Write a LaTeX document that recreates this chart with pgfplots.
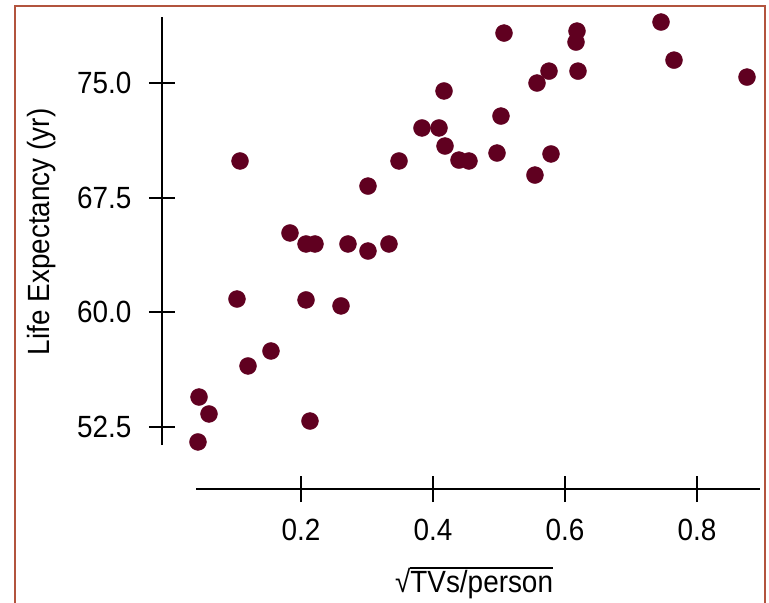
\documentclass[border=0pt]{standalone}
\usepackage{fontspec}
\setmainfont{Liberation Sans}
\usepackage{pgfplots}
\pgfplotsset{compat=1.18}
\definecolor{dotred}{RGB}{96,0,32}
\definecolor{framered}{RGB}{178,84,62}
\newcommand{\ovl}[1]{\leavevmode\vbox{\hrule height 1.4pt\kern 1.4pt\hbox{#1}}}
\newcommand{\tall}[1]{\scalebox{1}[1.1]{#1}}

\begin{document}
\begin{tikzpicture}
\useasboundingbox (0bp,0bp) rectangle (769bp,-603bp);
\draw[framered, line width=1.6bp] (15bp,-6bp) rectangle (765bp,-640bp);
\begin{axis}[
  at={(196bp,-445bp)},
  anchor=south west,
  scale only axis,
  width=564bp, height=428bp,
  xmin=0.0409, xmax=0.8955,
  ymin=51.32, ymax=79.32,
  clip=false,
  axis x line=bottom,
  axis y line=left,
  axis x line shift=44bp,
  axis y line shift=34bp,
  axis line style={-, line width=2.1bp},
  tick style={line width=2.1bp, black},
  tick align=center,
  major tick length=26bp,
  xtick={0.2,0.4,0.6,0.8},
  ytick={52.5,60,67.5,75},
  minor tick num=0,
  tick label style={font=\fontsize{28}{30}\selectfont},
  /pgf/number format/assume math mode=true,
  xticklabel={\tall{\pgfmathprintnumber[fixed, fixed zerofill, precision=1]{\tick}}},
  yticklabel={\tall{\pgfmathprintnumber[fixed, fixed zerofill, precision=1]{\tick}}},
  xticklabel style={yshift=-14bp},
  yticklabel style={xshift=-14bp},
  xlabel={\tall{√\ovl{TVs/person}}},
  ylabel={\tall{Life Expectancy (yr)}},
  label style={font=\fontsize{28}{30}\selectfont},
  xlabel style={at={(axis description cs:0.493,-0.345)}, anchor=base},
  ylabel style={at={(axis description cs:-0.259,0.498)}, anchor=base, rotate=0},
]
\addplot[only marks, mark=*, mark size=8.5bp, color=dotred, mark options={draw=dotred, fill=dotred}] coordinates {
  (0.0439,51.52) (0.0455,54.46) (0.0606,53.35) (0.1030,60.87)
  (0.1076,69.90) (0.1197,56.49) (0.1545,57.47) (0.1833,65.19)
  (0.2076,64.47) (0.2212,64.47) (0.2076,60.81) (0.2136,52.89)
  (0.2606,60.42) (0.2712,64.47) (0.3015,68.26) (0.3015,64.01)
  (0.3333,64.47) (0.3485,69.90) (0.3833,72.06) (0.4091,72.06)
  (0.4167,74.48) (0.4182,70.88) (0.4394,69.96) (0.4545,69.90)
  (0.4970,70.42) (0.5030,72.84) (0.5076,78.27) (0.5545,68.98)
  (0.5576,75.00) (0.5758,75.78) (0.5788,70.36) (0.6167,77.68)
  (0.6182,78.40) (0.6197,75.78) (0.7455,78.99) (0.7652,76.50)
  (0.8758,75.39)
};
\end{axis}
\end{tikzpicture}
\end{document}
